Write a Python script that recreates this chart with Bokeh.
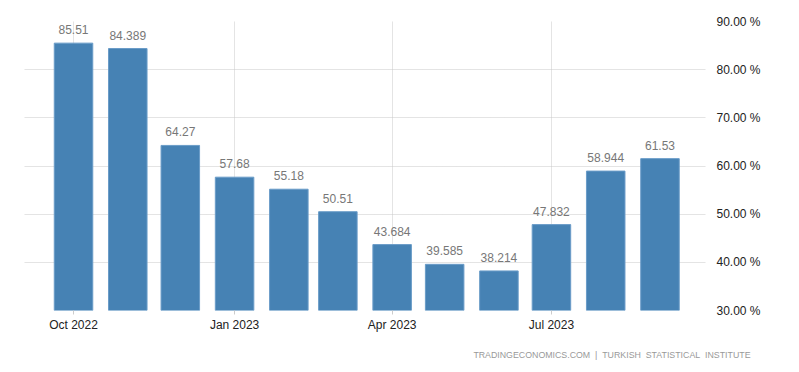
from datetime import datetime
from bokeh.plotting import figure
from bokeh.models import (ColumnDataSource, LabelSet, FixedTicker, DatetimeTickFormatter,
                          Range1d, Title, CustomJSTickFormatter)
from bokeh.core.properties import value
from bokeh.embed import file_html
from bokeh.resources import INLINE

months = ["2022-10", "2022-11", "2022-12", "2023-01", "2023-02", "2023-03",
          "2023-04", "2023-05", "2023-06", "2023-07", "2023-08", "2023-09"]
values = [85.51, 84.389, 64.27, 57.68, 55.18, 50.51, 43.684, 39.585, 38.214, 47.832, 58.944, 61.53]
labels = ["85.51", "84.389", "64.27", "57.68", "55.18", "50.51", "43.684", "39.585",
          "38.214", "47.832", "58.944", "61.53"]
x_ticks = ["2022-10", "2023-01", "2023-04", "2023-07"]
y_ticks = [30, 40, 50, 60, 70, 80, 90]

def ms(s):
    return datetime.strptime(s + "-01", "%Y-%m-%d").timestamp() * 1000.0

DAY = 86400000.0
xs = [ms(m) for m in months]
src = ColumnDataSource(dict(x=xs, top=values, lab=labels))

FONT = "Liberation Sans"

p = figure(width=783, height=372, output_backend="svg", toolbar_location=None,
           x_axis_type="datetime", y_axis_location="right",
           x_range=Range1d(ms("2022-10") - 28 * DAY, ms("2023-07") + 88 * DAY),
           y_range=Range1d(30, 90),
           min_border_left=24, min_border_top=21, min_border_right=78, min_border_bottom=62)
p.outline_line_color = None
p.background_fill_color = "white"

p.vbar(x="x", top="top", bottom=30, width=22 * DAY, source=src,
       fill_color="#4682b4", line_color="#6a9cc8", line_width=1)

p.add_layout(LabelSet(x="x", y="top", text="lab", source=src, text_align="center",
                      text_baseline="alphabetic", y_offset=9, text_font=value(FONT),
                      text_font_size="12px", text_color="#777777"))

xa = p.xaxis[0]
xa.ticker = FixedTicker(ticks=[ms(t) for t in x_ticks])
xa.formatter = DatetimeTickFormatter(days="%b %Y", months="%b %Y", years="%b %Y")
xa.axis_line_color = None
xa.major_tick_in = 0
xa.major_tick_out = 4
xa.major_tick_line_color = "#cccccc"
xa.minor_tick_line_color = None
xa.major_label_text_font = FONT
xa.major_label_text_font_size = "12px"
xa.major_label_text_color = "#222222"
xa.major_label_standoff = 3

ya = p.yaxis[0]
ya.ticker = FixedTicker(ticks=y_ticks)
ya.formatter = CustomJSTickFormatter(code="return tick.toFixed(2) + ' %';")
ya.axis_line_color = None
ya.major_tick_line_color = None
ya.minor_tick_line_color = None
ya.major_label_text_font = FONT
ya.major_label_text_font_size = "12px"
ya.major_label_text_color = "#222222"
ya.major_label_standoff = 5

for g in (p.xgrid[0], p.ygrid[0]):
    g.grid_line_color = "#c8c8c8"
    g.grid_line_dash = "1 1"
    g.grid_line_width = 1
p.xgrid[0].ticker = xa.ticker
p.ygrid[0].ticker = ya.ticker

NB = "\u00a0"
footer = "TRADINGECONOMICS.COM" + NB + NB + "|" + NB + NB + "TURKISH" + NB + NB + "STATISTICAL" + NB + NB + "INSTITUTE"
p.add_layout(Title(text=footer, align="right", text_font=FONT, text_font_size="8.8px",
                   text_font_style="normal", text_color="#999999", offset=-45,
                   standoff=26), "below")

open("out.html", "w").write(file_html(p, INLINE))
